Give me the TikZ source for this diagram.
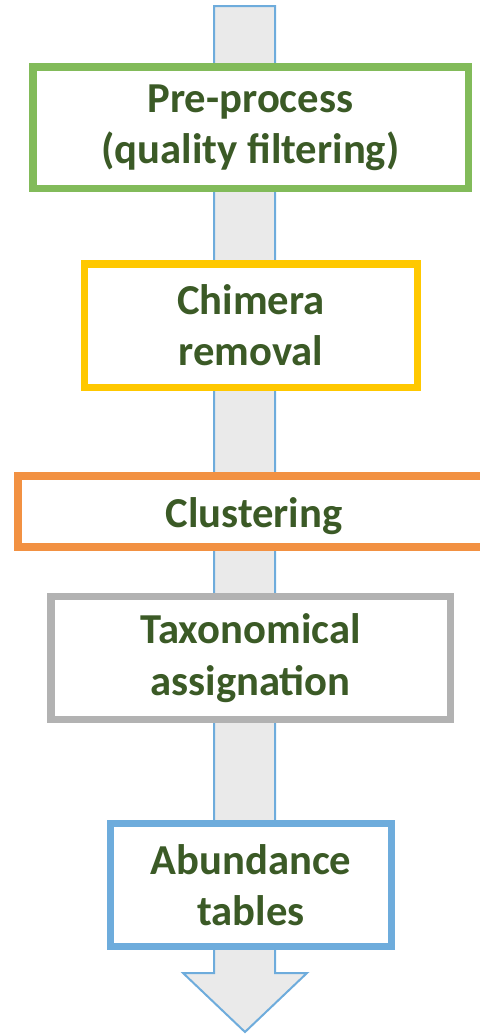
\documentclass[tikz,border=0pt]{standalone}
\usepackage{fontspec}
\setmainfont{Carlito}
\definecolor{stepgreen}{HTML}{82BB5A}
\definecolor{stepyellow}{HTML}{FFC800}
\definecolor{steporange}{HTML}{F29142}
\definecolor{stepgray}{HTML}{B2B2B2}
\definecolor{stepblue}{HTML}{6EACDC}
\definecolor{shaftblue}{HTML}{6EACDC}
\definecolor{shaftfill}{HTML}{EAEAEA}
\definecolor{labelgreen}{HTML}{3B5A26}
\tikzset{
  stepbox/.style={draw, fill=white, line width=5.6pt, rectangle, align=center,
    inner sep=0pt, text=labelgreen,
    font=\fontsize{32}{38.5}\selectfont\bfseries},
  flowarrow/.style={draw=shaftblue, fill=shaftfill, line width=1.5pt, line join=miter}
}
\begin{document}
\begin{tikzpicture}[x=0.75pt,y=-0.75pt]
\useasboundingbox (0,0) rectangle (479,1035);
% background flow arrow
\draw[flowarrow] (214,6) -- (275,6) -- (275,973) -- (307,973) -- (245,1032)
  -- (183,973) -- (214,973) -- cycle;
% processing steps
\node[stepbox, draw=stepgreen, minimum width=326.6pt, minimum height=91.1pt]
  (pre) at (250.5,127.5) {Pre-process\\(quality filtering)};
\node[stepbox, draw=stepyellow, minimum width=249.4pt, minimum height=92.6pt]
  (chim) at (251,325.5) {Chimera\\removal};
\node[stepbox, draw=steporange, minimum width=354pt, minimum height=53.3pt,
  text height=24pt, text depth=0pt]
  (clus) at (254,511.5) {Clustering};
\node[stepbox, draw=stepgray, minimum width=299.6pt, minimum height=91.9pt]
  (tax) at (250.5,658) {Taxonomical\\assignation};
\node[stepbox, draw=stepblue, minimum width=210.8pt, minimum height=92.3pt]
  (abund) at (251,885) {Abundance\\tables};
\end{tikzpicture}
\end{document}
